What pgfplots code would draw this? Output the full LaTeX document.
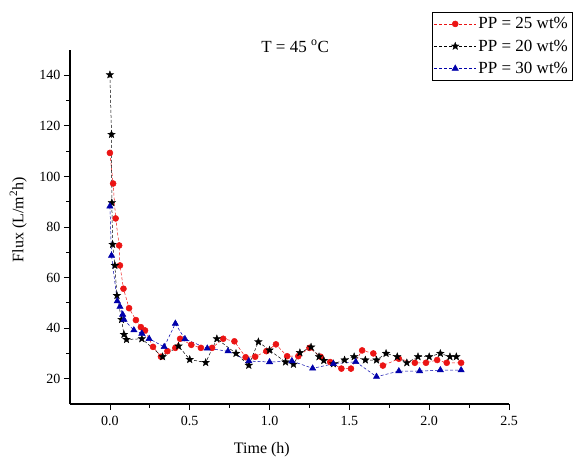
\documentclass[border=0pt]{standalone}
\usepackage{pgfplots}
\pgfplotsset{compat=1.18}
\usepackage{fontspec}
\setmainfont{Liberation Serif}
\definecolor{myred}{RGB}{235,20,20}
\definecolor{myblue}{RGB}{0,0,170}
\pgfdeclareplotmark{fstar}{%
  \pgfpathmoveto{\pgfqpointpolar{90}{\pgfplotmarksize}}%
  \pgfpathlineto{\pgfqpointpolar{126}{0.42\pgfplotmarksize}}%
  \pgfpathlineto{\pgfqpointpolar{162}{\pgfplotmarksize}}%
  \pgfpathlineto{\pgfqpointpolar{198}{0.42\pgfplotmarksize}}%
  \pgfpathlineto{\pgfqpointpolar{234}{\pgfplotmarksize}}%
  \pgfpathlineto{\pgfqpointpolar{270}{0.42\pgfplotmarksize}}%
  \pgfpathlineto{\pgfqpointpolar{306}{\pgfplotmarksize}}%
  \pgfpathlineto{\pgfqpointpolar{342}{0.42\pgfplotmarksize}}%
  \pgfpathlineto{\pgfqpointpolar{18}{\pgfplotmarksize}}%
  \pgfpathlineto{\pgfqpointpolar{54}{0.42\pgfplotmarksize}}%
  \pgfpathclose
  \pgfusepathqfillstroke}
\begin{document}
\begin{tikzpicture}
\begin{axis}[
  name=ax,
  scale only axis,
  width=439pt, height=354pt,
  xmin=-0.25, xmax=2.5,
  ymin=10, ymax=150,
  axis x line*=bottom,
  axis y line*=left,
  axis line style={line width=1.1pt, -},
  xtick={0,0.5,1,1.5,2,2.5},
  minor x tick num=1,
  ytick={20,40,60,80,100,120,140},
  minor y tick num=1,
  tick align=outside,
  major tick length=6pt,
  minor tick length=3.5pt,
  every tick/.style={line width=0.8pt, black},
  xticklabel style={/pgf/number format/.cd, fixed, fixed zerofill, precision=1},
  xticklabel shift=3pt,
  /pgf/number format/assume math mode=true,
  tick label style={font=\fontsize{14}{16}\selectfont},
  xlabel={Time (h)},
  ylabel={Flux (L/m\textsuperscript{2}h)},
  every axis x label/.style={at={(axis description cs:0.437,-0.13)}, anchor=center, font=\fontsize{16}{18}\selectfont},
  every axis y label/.style={at={(axis description cs:-0.118,0.52)}, rotate=90, anchor=center, font=\fontsize{16}{18}\selectfont},
  clip=false,
  legend style={at={(axis description cs:0.824,1.108)}, anchor=north west,
    draw=black, line width=0.5pt, fill=white,
    font=\fontsize{17}{19}\selectfont, row sep=5.5pt, inner ysep=3.5pt, inner xsep=2pt},
  legend cell align=left,
  legend image code/.code={\draw[mark repeat=2,mark phase=2] plot coordinates {(0pt,0pt) (21pt,0pt) (42pt,0pt)};},
]
\addplot[myred, densely dashed, line width=0.5pt, mark=*, mark size=3pt, mark options={solid, fill=myred, draw=myred}] coordinates {
(0,109.3) (0.02,97.2) (0.036,83.4) (0.058,72.7) (0.063,64.8) (0.085,55.6)
(0.12,47.9) (0.163,43.2) (0.194,40.4) (0.22,39.1) (0.27,32.6) (0.32,28.7)
(0.36,30.9) (0.41,32.2) (0.44,35.8) (0.51,33.4) (0.57,32.2) (0.64,32.2)
(0.71,35.8) (0.78,34.8) (0.85,28.5) (0.91,28.7) (0.98,30.9) (1.04,33.6)
(1.11,28.9) (1.18,28.9) (1.25,32.2) (1.32,28.7) (1.38,26.6) (1.45,24.0)
(1.51,24.0) (1.58,31.2) (1.65,30.0) (1.71,25.2) (1.81,27.9) (1.91,26.3)
(1.98,26.3) (2.05,27.4) (2.11,26.3) (2.2,26.3)
};
\addlegendentry{PP = 25 wt\%}
\addplot[black, densely dashed, line width=0.5pt, mark=fstar, mark size=4pt, mark options={solid, fill=black, line width=0.3pt}] coordinates {
(0,140.2) (0.01,116.6) (0.012,89.6) (0.017,73.1) (0.031,64.8) (0.044,52.9)
(0.073,43.4) (0.088,37.5) (0.104,35.5) (0.2,35.8) (0.33,28.7) (0.43,32.9)
(0.5,27.6) (0.6,26.4) (0.67,35.8) (0.79,30.0) (0.87,25.3) (0.93,34.6)
(1.0,31.3) (1.1,26.6) (1.15,25.7) (1.19,30.3) (1.26,32.5) (1.31,28.7)
(1.34,27.2) (1.40,25.9) (1.47,27.4) (1.53,28.7) (1.60,27.4) (1.67,27.4)
(1.73,30.0) (1.80,28.7) (1.86,26.3) (1.93,28.7) (2.0,28.7) (2.07,30.0)
(2.13,28.7) (2.17,28.7)
};
\addlegendentry{PP = 20 wt\%}
\addplot[myblue, densely dashed, line width=0.5pt, mark=triangle*, mark size=3.6pt, mark options={solid, fill=myblue, draw=myblue}] coordinates {
(0,88.2) (0.01,68.7) (0.046,50.7) (0.063,48.5) (0.08,45.4) (0.088,43.4)
(0.15,39.2) (0.2,37.9) (0.246,35.8) (0.34,32.6) (0.41,41.8) (0.47,35.7)
(0.61,32.0) (0.74,30.9) (0.87,27.0) (1.0,26.6) (1.14,27.0) (1.27,24.1)
(1.40,25.9) (1.54,26.7) (1.67,20.8) (1.81,23.0) (1.94,23.0) (2.07,23.4)
(2.2,23.4)
};
\addlegendentry{PP = 30 wt\%}
\node[font=\fontsize{17}{19}\selectfont, anchor=center] at (axis cs:1.16,151.5) {T = 45 \textsuperscript{o}C};
\end{axis}
\pgfresetboundingbox
\path (ax.south west) ++(-70pt,-55pt) rectangle ++(578pt,459pt);
\end{tikzpicture}
\end{document}
